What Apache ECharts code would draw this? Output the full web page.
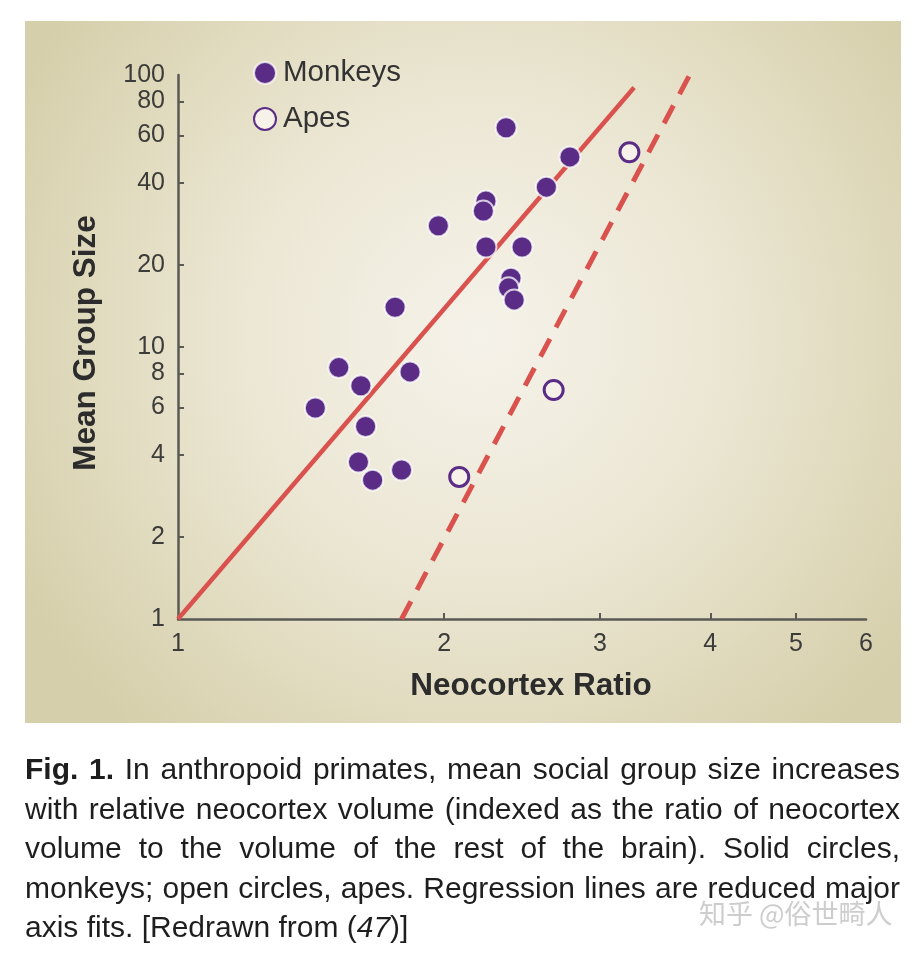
<!DOCTYPE html>
<html>
<head>
<meta charset="utf-8">
<script src="https://cdn.jsdelivr.net/npm/echarts@6/dist/echarts.min.js"></script>
<style>
html,body{margin:0;padding:0;background:#fff;}
#chart{width:916px;height:958px;}
</style>
</head>
<body>
<div id="chart"></div>
<script>
// Data (log-log scales)
var monkeys = [
  [1.43, 5.97], [1.52, 8.4], [1.61, 7.2], [1.63, 5.1], [1.60, 3.78],
  [1.66, 3.24], [1.79, 3.53], [1.83, 8.1], [1.76, 14.0], [1.97, 27.9],
  [2.23, 34.4], [2.215, 31.6], [2.23, 23.3], [2.45, 23.3], [2.38, 17.9],
  [2.365, 16.5], [2.40, 14.9], [2.35, 64], [2.61, 38.7], [2.775, 50]
];
var apes = [[2.08, 3.33], [2.66, 6.95], [3.24, 52]];
var monkeyFit = [[1, 1], [3.28, 90]];
var apeFit = [[1.79, 1], [3.79, 100]];
var xTicks = [1, 2, 3, 4, 5, 6];
var yTicks = [1, 2, 4, 6, 8, 10, 20, 40, 60, 80, 100];
var captionLines = [
  '{b|Fig.} {b|1.} In anthropoid primates, mean social group size increases',
  'with relative neocortex volume (indexed as the ratio of neocortex',
  'volume to the volume of the rest of the brain). Solid circles,',
  'monkeys; open circles, apes. Regression lines are reduced major',
  'axis fits. [Redrawn from ({i|47})]'
];
var watermark = '知乎 @俗世畸人';

var purple = '#5a2c86';
var red = '#d9524e';
var axisColor = '#5a5a55';
var labelColor = '#3c3c3a';
var sans = '"Liberation Sans", Arial, Helvetica, sans-serif';

var capSize = 30;
var capFamily = '"Liberation Sans", Arial, sans-serif';
var capLeft = 25, capRight = 900, capTop = 756, capStep = 39.5;
var fonts = {
  n: capSize + 'px ' + capFamily,
  b: 'bold ' + capSize + 'px ' + capFamily,
  i: 'italic ' + capSize + 'px ' + capFamily
};
var mctx = document.createElement('canvas').getContext('2d');
function measure(t, f) { mctx.font = f; return mctx.measureText(t).width; }
function wordWidth(word) {
  var re = /\{(\w)\|([^}]*)\}|([^{]+)/g, m, w = 0;
  while ((m = re.exec(word)) !== null) {
    if (m[3] !== undefined) w += measure(m[3], fonts.n);
    else w += measure(m[2], fonts[m[1]]);
  }
  return w;
}

var chart = echarts.init(document.getElementById('chart'));

var graphics = [
  {
    type: 'rect', z: -10, silent: true,
    shape: { x: 25, y: 21, width: 876, height: 702 },
    style: {
      fill: {
        type: 'radial', x: 0.52, y: 0.45, r: 0.75,
        colorStops: [
          { offset: 0, color: '#f5f2ea' },
          { offset: 0.45, color: '#ece7d4' },
          { offset: 1, color: '#d6cfab' }
        ]
      }
    }
  }
];
var spaceW = measure(' ', fonts.n);
captionLines.forEach(function (line, li) {
  var words = line.split(' ');
  var widths = words.map(wordWidth);
  var total = widths.reduce(function (a, b) { return a + b; }, 0);
  var last = li === captionLines.length - 1;
  var gap = last ? spaceW : (capRight - capLeft - total) / (words.length - 1);
  var x = capLeft;
  words.forEach(function (w, wi) {
    graphics.push({
      type: 'text', x: x, y: capTop + li * capStep, silent: true,
      style: {
        text: w,
        font: fonts.n,
        fill: '#1e1e1e',
        rich: {
          b: { fontWeight: 'bold', fontSize: capSize, fontFamily: capFamily, fill: '#1e1e1e' },
          i: { fontStyle: 'italic', fontSize: capSize, fontFamily: capFamily, fill: '#1e1e1e' }
        }
      }
    });
    x += widths[wi] + gap;
  });
});
graphics.push({
  type: 'text', left: 699, top: 900, silent: true, z: 10,
  style: {
    text: watermark,
    font: '27px "Noto Sans CJK SC", sans-serif',
    fill: '#cdcdcd'
  }
});

chart.setOption({
  backgroundColor: '#ffffff',
  animation: false,
  graphic: graphics,
  grid: { left: 178, top: 75, right: 50, bottom: 339, containLabel: false },
  legend: {
    left: 253, top: 58, orient: 'vertical', padding: 0,
    itemWidth: 22, itemHeight: 22, itemGap: 16,
    data: [
      { name: 'Monkeys', icon: 'circle' },
      { name: 'Apes', icon: 'circle' }
    ],
    textStyle: { fontSize: 29.5, fontFamily: sans, color: '#333', lineHeight: 30, padding: [0, 0, 0, 2] }
  },
  xAxis: {
    type: 'log', logBase: 10, min: 1, max: 6,
    name: 'Neocortex Ratio', nameLocation: 'middle', nameGap: 51,
    nameTextStyle: { fontSize: 31.5, fontWeight: 'bold', fontFamily: sans, color: '#2c2c2c', padding: [0, 0, 0, 18] },
    axisLine: { show: true, lineStyle: { color: axisColor, width: 2.5 } },
    axisTick: { show: true, inside: true, length: 6, lineStyle: { color: axisColor, width: 2 }, customValues: xTicks.slice(1, -1) },
    axisLabel: { fontSize: 25, fontFamily: sans, color: labelColor, margin: 13, customValues: xTicks },
    splitLine: { show: false },
    minorTick: { show: false }
  },
  yAxis: {
    type: 'log', logBase: 10, min: 1, max: 100,
    name: 'Mean Group Size', nameLocation: 'middle', nameGap: 76, nameRotate: 90,
    nameTextStyle: { fontSize: 31.5, fontWeight: 'bold', fontFamily: sans, color: '#2c2c2c', padding: [0, 0, 0, 8] },
    axisLine: { show: true, lineStyle: { color: axisColor, width: 2.5 } },
    axisTick: { show: true, inside: true, length: 6, lineStyle: { color: axisColor, width: 2 }, customValues: yTicks.slice(1, -1) },
    axisLabel: { fontSize: 25, fontFamily: sans, color: labelColor, margin: 13, customValues: yTicks },
    splitLine: { show: false },
    minorTick: { show: false }
  },
  series: [
    {
      name: 'Monkeys fit', type: 'line', data: monkeyFit, showSymbol: false, z: 2,
      lineStyle: { color: red, width: 4.5 }, silent: true
    },
    {
      name: 'Apes fit', type: 'line', data: apeFit, showSymbol: false, z: 2,
      lineStyle: { color: red, width: 5, type: [20, 13] }, silent: true
    },
    {
      name: 'Monkeys', type: 'scatter', data: monkeys, symbol: 'circle', symbolSize: 21, z: 3,
      itemStyle: { color: purple, borderColor: 'rgba(255,255,255,0.75)', borderWidth: 2, opacity: 1 }
    },
    {
      name: 'Apes', type: 'scatter', data: apes, symbol: 'circle', symbolSize: 19, z: 3,
      itemStyle: { color: '#f6f2ea', borderColor: purple, borderWidth: 3, opacity: 1 }
    }
  ]
});
</script>
</body>
</html>
